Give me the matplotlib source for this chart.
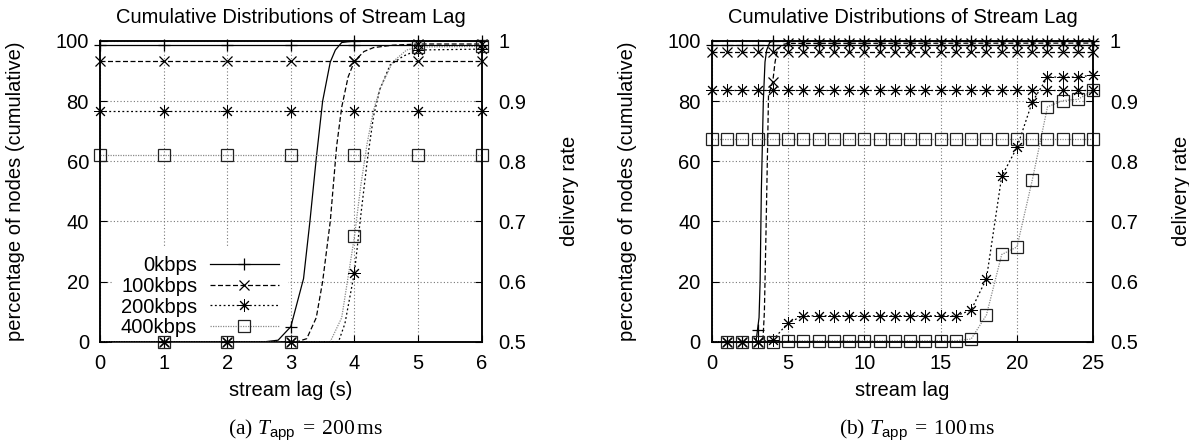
import numpy as np
import matplotlib
matplotlib.use('Agg')
import matplotlib.pyplot as plt

plt.rcParams['font.family'] = ['Liberation Sans', 'DejaVu Sans']
plt.rcParams['mathtext.fontset'] = 'custom'
plt.rcParams['mathtext.rm'] = 'Liberation Serif'
plt.rcParams['mathtext.it'] = 'Liberation Serif:italic'
plt.rcParams['mathtext.sf'] = 'Liberation Sans'

#--- series names
rates = ['0kbps', '100kbps', '200kbps', '400kbps']

#--- (a) T_app = 200 ms
lag_a = [0, 1, 2, 3, 4, 5, 6]
deliv_a = [0.9935, 0.967, 0.8835, 0.811]          # delivery rate (right axis)
# cdf values at integer lags 1..6 (marker positions)
cdf_a_0 = [0, 0, 5, 100, 100, 100]
cdf_a_100 = [0, 0, 0, 93.3, 99, 99]
cdf_a_200 = [0, 0, 0, 23, 97, 97.3]
cdf_a_400 = [0, 0, 0, 35, 98, 98.2]
# finer cdf curves
curve_a_0_x = [0, 2.6, 2.8, 3.0, 3.2, 3.3, 3.4, 3.5, 3.62, 3.7, 3.8, 4.0, 6]
curve_a_0_y = [0, 0, 0.5, 5, 21, 40, 61, 80, 93, 97, 99.5, 100, 100]
curve_a_100_x = [0, 3.1, 3.25, 3.4, 3.5, 3.62, 3.72, 3.8, 3.9, 4.0, 4.15, 4.3, 4.6, 5, 6]
curve_a_100_y = [0, 0, 1, 8, 20, 40, 65, 78, 88, 93.3, 96.5, 97.8, 98.6, 99, 99]
curve_a_200_x = [0, 3.75, 3.85, 4.0, 4.1, 4.2, 4.3, 4.4, 4.56, 4.77, 5, 6]
curve_a_200_y = [0, 0, 6, 23, 42, 60, 75, 84, 92, 95, 97, 97.3]
curve_a_400_x = [0, 3.62, 3.8, 4.0, 4.1, 4.2, 4.3, 4.4, 4.6, 4.82, 5, 6]
curve_a_400_y = [0, 0, 8, 35, 52, 66, 77, 84, 93, 97, 98, 98.2]

#--- (b) T_app = 100 ms
lag_b = list(range(0, 26))
deliv_b = [0.994, 0.9825, 0.918, 0.8375]
# cdf values at integer lags 1..25
cdf_b_0 = [0, 0, 4, 100, 100, 100, 100, 100, 100, 100, 100, 100, 100,
           100, 100, 100, 100, 100, 100, 100, 100, 100, 100, 100, 100]
cdf_b_100 = [0, 0, 0, 86.5, 99.2, 99.3, 99.3, 99.3, 99.3, 99.3, 99.3, 99.3, 99.3,
             99.3, 99.3, 99.3, 99.3, 99.3, 99.3, 99.3, 99.3, 99.3, 99.3, 99.3, 99.3]
cdf_b_200 = [0, 0, 0, 0.5, 6.3, 8.6, 8.6, 8.6, 8.6, 8.6, 8.6, 8.6, 8.6,
             8.6, 8.6, 8.6, 10.5, 21, 55, 64.6, 79.7, 88, 88, 88, 88.7]
cdf_b_400 = [0, 0, 0, 0, 0.3, 0.3, 0.3, 0.3, 0.3, 0.3, 0.3, 0.3, 0.3,
             0.3, 0.3, 0.3, 0.9, 8.9, 29, 31.5, 53.7, 78.1, 80.2, 80.6, 83.6]
curve_b_0_x = [0, 2.9, 3.0, 3.1, 3.17, 3.25, 3.38, 3.49, 3.6, 3.8, 4.0, 25]
curve_b_0_y = [0, 0, 4, 8, 20, 50, 80, 93, 97, 99.5, 100, 100]
curve_b_100_x = [0, 3.35, 3.45, 3.55, 3.65, 3.72, 4.0, 4.15, 4.3, 4.6, 5, 25]
curve_b_100_y = [0, 0, 10, 35, 62, 82, 86.5, 93, 97, 98.8, 99.2, 99.3]

pct_ticks = [0, 20, 40, 60, 80, 100]
rate_ticks = [0.5, 0.6, 0.7, 0.8, 0.9, 1.0]
rate_labels = ['0.5', '0.6', '0.7', '0.8', '0.9', '1']

#--- line/marker styles per series
styles = [
    dict(color='black', ls='-', marker='+', ms=9, mec='black', mfc='none', mew=0.9),
    dict(color='black', ls=(0, (4, 2)), marker='x', ms=7.5, mec='black', mfc='none', mew=0.9),
    dict(color='black', ls=(0, (1.5, 2)), marker=(8, 2, 0), ms=9, mec='black', mfc='none', mew=0.7),
    dict(color='#8a8a8a', ls=(0, (1, 1)), marker='s', ms=8, mec='#222222', mfc='none', mew=0.9),
]
FS = 14.5


def panel(ax, lags, deliv, curves, pts, xticks, xlabel, title, legend):
    ax.set_xlim(lags[0], lags[-1])
    ax.set_ylim(0, 100)
    ax.set_xticks(xticks)
    ax.set_yticks(pct_ticks)
    ax.set_axisbelow(True)
    ax.grid(True, ls=(0, (1, 2)), color='#777777', lw=0.8)
    ax.tick_params(direction='in', length=5, labelsize=FS, top=True, right=False)
    ax.tick_params(axis='x', pad=9)
    ax.tick_params(axis='y', pad=8)

    ax2 = ax.twinx()
    ax2.set_ylim(0.5, 1.0)
    ax2.set_yticks(rate_ticks)
    ax2.set_yticklabels(rate_labels)
    ax2.tick_params(direction='in', length=5, labelsize=FS, pad=12)

    handles = []
    for i in range(4):
        st = styles[i]
        cx, cy = curves[i]
        ax.plot(cx, cy, color=st['color'], ls=st['ls'], lw=0.9, zorder=3)
        ax.plot(lags[1:], pts[i], ls='none', marker=st['marker'], ms=st['ms'],
                mec=st['mec'], mfc=st['mfc'], mew=st['mew'], clip_on=False, zorder=4)
        h, = ax2.plot(lags, [deliv[i]] * len(lags), color=st['color'], ls=st['ls'],
                      lw=0.9, marker=st['marker'], ms=st['ms'], mec=st['mec'],
                      mfc=st['mfc'], mew=st['mew'], clip_on=False)
        handles.append(h)

    for a in (ax, ax2):
        for s in a.spines.values():
            s.set_linewidth(1.1)

    ax.set_title(title, fontsize=FS, pad=13)
    ax.set_xlabel(xlabel, fontsize=FS)
    ax.xaxis.set_label_coords(0.5, -0.13)
    ax.set_ylabel('percentage of nodes (cumulative)', fontsize=FS)
    ax.yaxis.set_label_coords(-0.1965, 0.5)
    ax2.set_ylabel('delivery rate', fontsize=FS)
    ax2.yaxis.set_label_coords(1.205, 0.5)

    if legend:
        leg = ax.legend(handles, rates, loc='lower left', bbox_to_anchor=(0.031, -0.015),
                        borderaxespad=0, borderpad=0.45, markerfirst=False, numpoints=1,
                        handlelength=3.4, handletextpad=0.65, labelspacing=0.08,
                        fontsize=FS, frameon=True, fancybox=False, framealpha=1,
                        facecolor='white', edgecolor='none')
        leg.set_zorder(2.5)
    return ax2


fig = plt.figure(figsize=(11.89, 4.48), dpi=100)
ax_a = fig.add_axes([0.0841, 0.2373, 0.3210, 0.6712])
ax_b = fig.add_axes([0.5986, 0.2373, 0.3209, 0.6712])

panel(ax_a, lag_a, deliv_a,
      [(curve_a_0_x, curve_a_0_y), (curve_a_100_x, curve_a_100_y),
       (curve_a_200_x, curve_a_200_y), (curve_a_400_x, curve_a_400_y)],
      [cdf_a_0, cdf_a_100, cdf_a_200, cdf_a_400],
      lag_a, 'stream lag (s)', 'Cumulative Distributions of Stream Lag', True)

panel(ax_b, lag_b, deliv_b,
      [(curve_b_0_x, curve_b_0_y), (curve_b_100_x, curve_b_100_y),
       (lag_b, [0] + cdf_b_200), (lag_b, [0] + cdf_b_400)],
      [cdf_b_0, cdf_b_100, cdf_b_200, cdf_b_400],
      [0, 5, 10, 15, 20, 25], 'stream lag', 'Cumulative Distributions of Stream Lag', False)

# captions
fig.text(0.2565, 0.04, r'(a) $T_{\mathsf{app}}\;=\;200\,\mathrm{ms}$', ha='center', va='center',
         family='Liberation Serif', fontsize=15.5)
fig.text(0.7717, 0.04, r'(b) $T_{\mathsf{app}}\;=\;100\,\mathrm{ms}$', ha='center', va='center',
         family='Liberation Serif', fontsize=15.5)

plt.savefig('out.png', dpi=100)
